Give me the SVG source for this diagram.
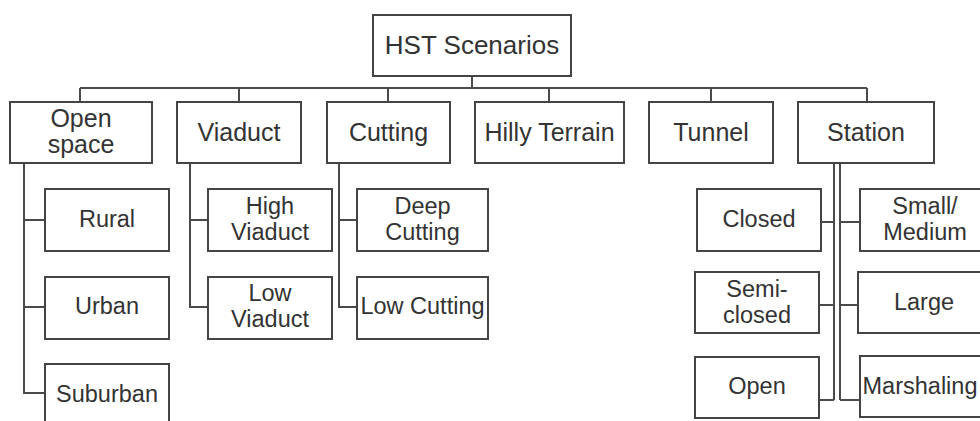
<svg xmlns="http://www.w3.org/2000/svg" width="980" height="421" viewBox="0 0 980 421">
<style>
.box{fill:#fff;stroke:#444;stroke-width:2}
.ln{fill:none;stroke:#4a4a4a;stroke-width:2}
text{font-family:"Liberation Sans",Arial,sans-serif;fill:#333;text-anchor:middle}
.t0{font-size:26px}
.t1{font-size:25px}
.t2{font-size:23.5px}
</style>
<rect width="980" height="421" fill="#fff"/>
<g id="connectors">
<path class="ln" d="M472 76V88M80 88H867M80 88V102M239 88V102M388 88V102M549 88V102M711 88V102M867 88V102"/>
<path class="ln" d="M24 163V393H45M24 220H45M24 307H45"/>
<path class="ln" d="M190 163V307H208M190 220H208"/>
<path class="ln" d="M339 163V307H357M339 220H357"/>
<path class="ln" d="M834 163V400M821 222H834M819 305H834M819 400H834"/>
<path class="ln" d="M840 163V400M840 222H860M840 305H858M840 400H860"/>
</g>
<g id="hst"><rect class="box" x="373" y="15" width="198" height="61"/><text class="t0" x="472" y="54">HST Scenarios</text></g>
<g id="open-space"><rect class="box" x="10" y="102" width="142" height="61"/><text class="t1" x="81" y="127">Open</text><text class="t1" x="81" y="153">space</text></g>
<g id="viaduct"><rect class="box" x="177" y="102" width="124" height="61"/><text class="t1" x="239" y="141">Viaduct</text></g>
<g id="cutting"><rect class="box" x="327" y="102" width="123" height="61"/><text class="t1" x="388.5" y="141">Cutting</text></g>
<g id="hilly"><rect class="box" x="475" y="102" width="149" height="61"/><text class="t1" x="549.5" y="141">Hilly Terrain</text></g>
<g id="tunnel"><rect class="box" x="649" y="102" width="124" height="61"/><text class="t1" x="711" y="141">Tunnel</text></g>
<g id="station"><rect class="box" x="798" y="102" width="136" height="61"/><text class="t1" x="866" y="141">Station</text></g>
<g id="rural"><rect class="box" x="45" y="189" width="124" height="62"/><text class="t2" x="107" y="227">Rural</text></g>
<g id="urban"><rect class="box" x="45" y="277" width="124" height="62"/><text class="t2" x="107" y="314">Urban</text></g>
<g id="suburban"><rect class="box" x="45" y="364" width="124" height="62"/><text class="t2" x="107" y="402">Suburban</text></g>
<g id="high-viaduct"><rect class="box" x="208" y="189" width="124" height="62"/><text class="t2" x="270" y="214">High</text><text class="t2" x="270" y="240">Viaduct</text></g>
<g id="low-viaduct"><rect class="box" x="208" y="277" width="124" height="62"/><text class="t2" x="270" y="301">Low</text><text class="t2" x="270" y="327">Viaduct</text></g>
<g id="deep-cutting"><rect class="box" x="357" y="189" width="131" height="62"/><text class="t2" x="422.5" y="214">Deep</text><text class="t2" x="422.5" y="240">Cutting</text></g>
<g id="low-cutting"><rect class="box" x="357" y="277" width="131" height="62"/><text class="t2" x="422.5" y="314">Low Cutting</text></g>
<g id="closed"><rect class="box" x="697" y="189" width="124" height="62"/><text class="t2" x="759" y="227">Closed</text></g>
<g id="semi-closed"><rect class="box" x="695" y="272" width="124" height="61"/><text class="t2" x="757" y="297">Semi-</text><text class="t2" x="757" y="323">closed</text></g>
<g id="open"><rect class="box" x="695" y="357" width="124" height="61"/><text class="t2" x="757" y="394">Open</text></g>
<g id="small-medium"><rect class="box" x="860" y="189" width="130" height="62"/><text class="t2" x="925" y="214">Small/</text><text class="t2" x="925" y="240">Medium</text></g>
<g id="large"><rect class="box" x="858" y="272" width="132" height="61"/><text class="t2" x="924" y="310">Large</text></g>
<g id="marshaling"><rect class="box" x="860" y="356" width="130" height="61"/><text class="t2" x="920" y="394">Marshaling</text></g>
</svg>
